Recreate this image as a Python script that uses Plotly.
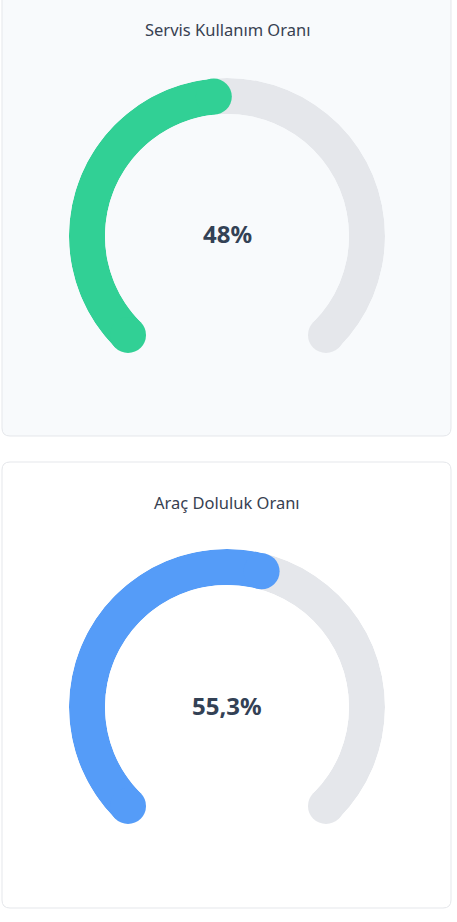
import plotly.graph_objects as go

W, H = 457, 922

titles = ["Servis Kullanım Oranı", "Araç Doluluk Oranı"]
values = [48.0, 55.3]
value_labels = ["48%", "55,3%"]
bar_colors = ["#31d095", "#559cf8"]
track_color = "#e5e7eb"
card_fills = ["#f8fafc", "#ffffff"]

# card boxes in pixels (x0, y0, x1, y1), y from top
cards = [(2, -10, 451, 436), (2, 462, 451, 908)]
centers = [(227, 236), (227, 707)]
title_y = [30, 502]
R_OUT, R_IN = 158, 122
SWEEP = 270.0
START = -135.0


def card_path(x0, y0, x1, y1, r=8):
    # rounded rect path in paper coords
    def px(x):
        return x / W

    def py(y):
        return 1 - y / H
    p = f"M {px(x0 + r)},{py(y0)} L {px(x1 - r)},{py(y0)} "
    p += f"Q {px(x1)},{py(y0)} {px(x1)},{py(y0 + r)} "
    p += f"L {px(x1)},{py(y1 - r)} Q {px(x1)},{py(y1)} {px(x1 - r)},{py(y1)} "
    p += f"L {px(x0 + r)},{py(y1)} Q {px(x0)},{py(y1)} {px(x0)},{py(y1 - r)} "
    p += f"L {px(x0)},{py(y0 + r)} Q {px(x0)},{py(y0)} {px(x0 + r)},{py(y0)} Z"
    return p


fig = go.Figure()
shapes = []
annotations = []
for i in range(2):
    sub = "polar" if i == 0 else f"polar{i + 1}"
    v = values[i]
    span = SWEEP * v / 100
    end = START + span

    # track (round cap only on the far end, start is covered by the value arc)
    fig.add_trace(go.Barpolar(
        r=[1], base=[0], theta=[0], width=[SWEEP],
        marker=dict(color=track_color, line=dict(width=0)),
        hoverinfo="skip", subplot=sub, showlegend=False
    ))
    fig.add_trace(go.Scatterpolar(
        r=[0.5], theta=[-START], mode="markers",
        marker=dict(size=R_OUT - R_IN, color=track_color),
        hoverinfo="skip", subplot=sub, showlegend=False
    ))
    # value arc
    fig.add_trace(go.Barpolar(
        r=[1], base=[0], theta=[START + span / 2], width=[span],
        marker=dict(color=bar_colors[i], line=dict(width=0)),
        hoverinfo="skip", subplot=sub, showlegend=False
    ))
    fig.add_trace(go.Scatterpolar(
        r=[0.5, 0.5], theta=[START, end], mode="markers",
        marker=dict(size=R_OUT - R_IN, color=bar_colors[i]),
        hoverinfo="skip", subplot=sub, showlegend=False
    ))

    cx, cy = centers[i]
    fig.update_layout({sub: dict(
        domain=dict(x=[(cx - R_OUT) / W, (cx + R_OUT) / W],
                    y=[1 - (cy + R_OUT) / H, 1 - (cy - R_OUT) / H]),
        hole=R_IN / R_OUT,
        bgcolor="rgba(0,0,0,0)",
        radialaxis=dict(range=[0, 1], visible=False),
        angularaxis=dict(rotation=90, direction="clockwise", visible=False),
    )})

    x0, y0, x1, y1 = cards[i]
    shapes.append(dict(type="path", xref="paper", yref="paper",
                       path=card_path(x0, y0, x1, y1),
                       fillcolor=card_fills[i], line=dict(color="#e5e7eb", width=1),
                       layer="below"))
    annotations.append(dict(text=titles[i], x=cx / W, y=1 - title_y[i] / H,
                            xref="paper", yref="paper", showarrow=False,
                            xanchor="center", yanchor="middle",
                            font=dict(family="Noto Sans", size=16.5, color="#374151")))
    annotations.append(dict(text=f"<b>{value_labels[i]}</b>", x=cx / W, y=1 - (cy - 2) / H,
                            xref="paper", yref="paper", showarrow=False,
                            xanchor="center", yanchor="middle",
                            font=dict(family="Noto Sans", size=24, color="#334155")))

fig.update_layout(
    width=W, height=H,
    margin=dict(t=0, l=0, r=0, b=0),
    paper_bgcolor="#ffffff",
    shapes=shapes,
    annotations=annotations,
)

fig.write_html("out.html", config={"displayModeBar": False},
               post_script="document.body.style.margin='0';")
